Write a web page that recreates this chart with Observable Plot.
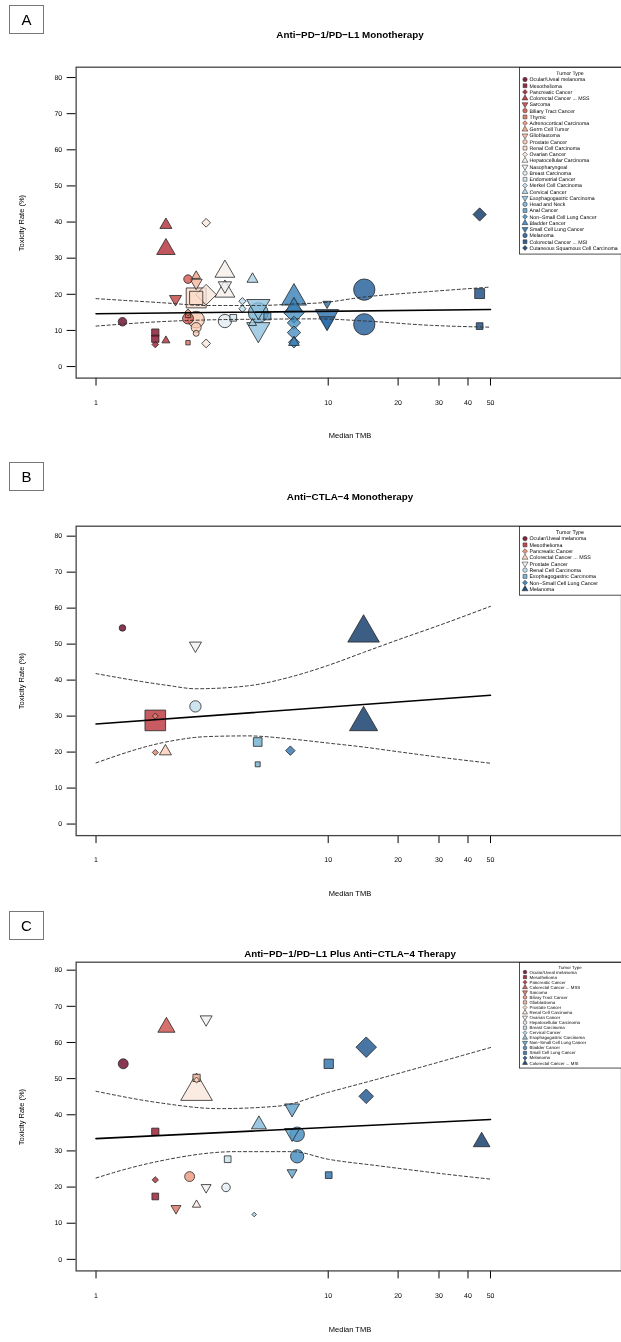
<!DOCTYPE html>
<html><head><meta charset="utf-8">
<script src="https://cdn.jsdelivr.net/npm/d3@7"></script>
<script src="https://cdn.jsdelivr.net/npm/@observablehq/plot@0.6"></script>
<style>
html,body{margin:0;padding:0;background:#fff;}
#page{position:relative;width:621px;height:1342px;overflow:hidden;background:#fff;font-family:"Liberation Sans",Arial,Helvetica,sans-serif;color:#000;will-change:transform;-webkit-font-smoothing:antialiased;}
#page svg text{text-rendering:geometricPrecision;}
.tag{position:absolute;left:9px;width:35px;height:29px;border:1px solid #777;box-sizing:border-box;font-size:15px;line-height:27px;text-align:center;}
.title{position:absolute;left:0;width:700px;text-align:center;font-weight:bold;font-size:9.8px;line-height:12px;}
.xlab{position:absolute;left:0;width:700px;text-align:center;font-size:7.5px;line-height:10px;}
.ylab{position:absolute;left:22px;width:0;height:0;}
.ylab span{position:absolute;left:-60px;top:-5px;width:120px;text-align:center;font-size:7.5px;line-height:10px;transform:rotate(-90deg);}
</style>
</head><body>
<div id="page"></div>
<script>
// ---------------- data ----------------
const xTicks = [1, 10, 20, 30, 40, 50];
const yTicks = [0, 10, 20, 30, 40, 50, 60, 70, 80];

// Panel A: Anti-PD-1/PD-L1 monotherapy
const typesA = ["Ocular/Uveal melanoma","Mesothelioma","Pancreatic Cancer","Colorectal Cancer ... MSS","Sarcoma","Biliary Tract Cancer","Thymic","Adrenocortical Carcinoma","Germ Cell Tumor","Glioblastoma","Prostate Cancer","Renal Cell Carcinoma","Ovarian Cancer","Hepatocellular Carcinoma","Nasopharyngeal","Breast Carcinoma","Endometrial Cancer","Merkel Cell Carcinoma","Cervical Cancer","Esophagogastric Carcinoma","Head and Neck","Anal Cancer","Non\u2212Small Cell Lung Cancer","Bladder Cancer","Small Cell Lung Cancer","Melanoma","Colorectal Cancer ... MSI","Cutaneous Squamous Cell Carcinoma"];
const tmbA = [1.30,1.80,1.80,2.0,2.2,2.49,2.49,2.49,2.70,2.70,2.70,2.70,2.98,3.59,3.59,3.59,3.90,4.27,4.72,5.0,5.0,5.47,7.12,7.12,9.89,14.3,44.9,44.9];
const ptTypeA = [0,1,1,2,3,3,3,4,5,5,6,6,7,8,9,10,10,10,11,11,12,12,12,13,13,14,15,16,17,17,18,18,19,19,20,21,22,22,22,22,23,23,23,24,24,24,25,25,26,26,27];
const ptRateA = [12.4,9.4,7.7,6.1,7.2,39.2,32.5,18.7,24.2,13.3,14.3,6.6,15.0,25.1,23.2,13.0,10.8,9.2,19.0,19.0,39.8,6.4,19.9,26.3,20.8,22.4,12.6,13.5,18.1,16.0,24.2,12.0,16.7,10.3,14.9,13.9,14.9,12.1,9.4,6.7,19.0,16.6,6.7,17.4,13.9,12.5,21.3,11.7,20.2,11.2,42.1];
const ptNA = [51,47,47,25,25,56,132,56,51,84,25,17,25,30,56,191,70,25,354,156,44,44,240,152,152,69,124,40,30,30,47,25,210,210,278,44,240,100,100,70,240,100,44,27,210,100,318,318,87,40,100];
const fitXA = [1, 50], fitYA = [14.6, 15.8];
const upXA = [1, 2, 3, 5, 7.5, 9.1, 14.5, 27.8, 50];
const upYA = [18.8, 17.6, 16.9, 16.9, 17.4, 17.6, 19.3, 20.8, 22.0];
const loXA = [1, 2, 3.5, 5, 9, 14.5, 27.8, 50];
const loYA = [11.2, 12.5, 13.0, 13.1, 13.2, 12.6, 11.4, 10.9];

// Panel B: Anti-CTLA-4 monotherapy
const typesB = ["Ocular/Uveal melanoma","Mesothelioma","Pancreatic Cancer","Colorectal Cancer ... MSS","Prostate Cancer","Renal Cell Carcinoma","Esophagogastric Carcinoma","Non\u2212Small Cell Lung Cancer","Melanoma"];
const tmbB = [1.30,1.80,1.80,1.99,2.68,2.68,4.97,6.87,14.2];
const ptTypeB = [0,1,2,2,3,4,5,6,6,7,8,8];
const ptRateB = [54.5,28.8,30.0,19.9,20.2,49.6,32.7,22.8,16.6,20.4,53.1,28.2];
const ptNB = [30,380,20,20,56,56,90,67,22,51,386,306];
const fitXB = [1, 50], fitYB = [27.8, 35.8];
const upXB = [1, 2, 2.7, 4.5, 7, 10, 14.2, 20, 30, 50];
const upYB = [41.8, 38.6, 37.6, 38.4, 41.0, 44.1, 47.7, 51.2, 55.2, 60.5];
const loXB = [1, 2, 3, 4.5, 7, 10, 14.2, 20, 30, 50];
const loYB = [17.0, 22.8, 24.3, 24.5, 23.6, 22.5, 21.4, 20.1, 18.6, 16.9];

// Panel C: Anti-PD-1/PD-L1 plus anti-CTLA-4
const typesC = ["Ocular/Uveal melanoma","Mesothelioma","Pancreatic Cancer","Colorectal Cancer ... MSS","Sarcoma","Biliary Tract Cancer","Glioblastoma","Prostate Cancer","Renal Cell Carcinoma","Ovarian Cancer","Hepatocellular Carcinoma","Breast Carcinoma","Cervical Cancer","Esophagogastric Carcinoma","Non\u2212Small Cell Lung Cancer","Bladder Cancer","Small Cell Lung Cancer","Melanoma","Colorectal Cancer ... MSI"];
const tmbC = [1.31,1.80,1.80,2.01,2.21,2.53,2.71,2.71,2.71,2.98,3.63,3.69,4.80,5.03,6.99,7.35,10.05,14.58,45.8];
const ptTypeC = [0,1,1,2,3,4,5,6,7,8,8,9,9,10,11,12,13,14,14,14,15,15,16,16,17,17,18];
const ptRateC = [54.1,35.3,17.4,22.0,64.2,14.1,22.9,50.2,49.6,46.5,15.1,66.4,19.9,19.9,27.7,12.4,37.3,41.8,35.0,24.0,34.6,28.5,54.1,23.3,58.7,45.1,32.5];
const ptNC = [69,47,40,23,114,38,69,47,20,386,27,56,38,51,40,12,87,87,87,38,148,124,78,40,240,121,107];
const fitXC = [1, 50], fitYC = [33.4, 38.7];
const upXC = [1, 1.88, 3.39, 6.1, 10, 16.4, 50];
const upYC = [46.5, 43.3, 41.7, 42.4, 46.2, 49.9, 58.6];
const loXC = [1, 1.35, 1.88, 4, 7, 10, 16.4, 31.8, 50];
const loYC = [22.5, 25.0, 27.2, 29.8, 29.8, 27.7, 25.9, 23.6, 22.2];

// ---------------- drawing ----------------
const SQ3 = Math.sqrt(3);
const triangleDown = {
  draw(context, size) {
    const y = -Math.sqrt(size / (SQ3 * 3));
    context.moveTo(0, -y * 2);
    context.lineTo(-SQ3 * y, y);
    context.lineTo(SQ3 * y, y);
    context.closePath();
  }
};
const shapes = [d3.symbolCircle, d3.symbolSquare, d3.symbolDiamond2, d3.symbolTriangle, triangleDown];
const FONT = '"Liberation Sans", Arial, Helvetica, sans-serif';
const page = document.getElementById("page");

function addDiv(cls, html, css) {
  const d = document.createElement("div");
  d.className = cls;
  d.innerHTML = html;
  Object.assign(d.style, css);
  page.appendChild(d);
  return d;
}

function panel(cfg, types, tmb, ptType, ptRate, ptN, fitX, fitY, upX, upY, loX, loY) {
  const colors = d3.quantize(d3.interpolateRdBu, types.length);
  const pts = ptType.map((t, i) => ({type: types[t], k: t, tmb: tmb[t], rate: ptRate[i], n: ptN[i]}));
  const fit = fitX.map((x, i) => ({x, y: fitY[i]}));
  const up = upX.map((x, i) => ({x, y: upY[i]}));
  const lo = loX.map((x, i) => ({x, y: loY[i]}));
  const mt = 60, mb = 80;
  const frameH = cfg.frameBottom - cfg.frameTop;
  const unit = (cfg.y0 - cfg.y80) / 80;
  const yTop = 80 + (cfg.y80 - cfg.frameTop) / unit;
  const yBot = -(cfg.frameBottom - cfg.y0) / unit;
  const chart = Plot.plot({
    width: 624,
    height: mt + frameH + mb,
    marginTop: mt, marginBottom: mb, marginLeft: 76, marginRight: 0,
    style: {fontFamily: FONT, fontSize: "7px", background: "transparent", color: "#000", overflow: "visible"},
    x: {type: "log", domain: [0.821, 183.3], ticks: xTicks, tickFormat: d => String(d), tickSize: 8, tickPadding: 14, label: null},
    y: {domain: [yBot, yTop], ticks: yTicks, tickSize: 9, tickPadding: 5, label: null},
    r: {type: "sqrt", domain: [0, 400], range: [0, 12]},
    color: {type: "ordinal", domain: types, range: colors},
    marks: [
      Plot.dot(pts, {x: "tmb", y: "rate", r: "n", fill: "type", symbol: d => shapes[d.k % 5],
        stroke: "#262626", strokeWidth: 0.8, fillOpacity: 0.78}),
      Plot.line(fit, {x: "x", y: "y", stroke: "#000", strokeWidth: 1.6}),
      Plot.line(up, {x: "x", y: "y", stroke: "#333", strokeWidth: 1, strokeDasharray: "3,2.6", curve: "monotone-x"}),
      Plot.line(lo, {x: "x", y: "y", stroke: "#333", strokeWidth: 1, strokeDasharray: "3,2.6", curve: "monotone-x"}),
      Plot.frame({stroke: "#444", strokeWidth: 1.3})
    ]
  });
  chart.style.position = "absolute";
  chart.style.left = "0px";
  chart.style.top = (cfg.frameTop - mt) + "px";
  page.appendChild(chart);

  // panel tag, title, axis titles
  addDiv("tag", cfg.tag, {top: cfg.tagTop + "px"});
  addDiv("title", cfg.title, {top: (cfg.titleY - 6) + "px"});
  addDiv("xlab", "Median TMB", {top: (cfg.frameBottom + 57.5 - 5) + "px"});
  addDiv("ylab", "<span>Toxicity Rate (%)</span>", {top: ((cfg.frameTop + cfg.frameBottom) / 2) + "px"});

  // legend (top-right inside frame)
  const step = cfg.legStep, fs = cfg.legFont;
  const h = step * (types.length + 1.9);
  const svg = d3.create("svg").attr("width", 110).attr("height", h + 2)
    .style("position", "absolute").style("left", "519px").style("top", cfg.frameTop + "px")
    .style("font-family", FONT);
  svg.append("rect").attr("x", 0.5).attr("y", 0.5).attr("width", 120).attr("height", h)
    .attr("fill", "#fff").attr("stroke", "#222").attr("stroke-width", 0.8);
  svg.append("text").attr("x", 51).attr("y", step * 1.0).attr("dy", "0.35em")
    .attr("text-anchor", "middle").attr("font-size", fs).text("Tumor Type");
  types.forEach((t, i) => {
    const y = step * (2 + i);
    svg.append("path").attr("d", d3.symbol(shapes[i % 5], fs * fs * 0.55)())
      .attr("transform", `translate(6,${y})`).attr("fill", colors[i]).attr("fill-opacity", 0.85)
      .attr("stroke", "#222").attr("stroke-width", 0.5);
    svg.append("text").attr("x", 10.5).attr("y", y).attr("dy", "0.35em")
      .attr("font-size", fs).text(t);
  });
  page.appendChild(svg.node());
}

panel({tag: "A", title: "Anti\u2212PD\u22121/PD\u2212L1 Monotherapy", tagTop: 5, titleY: 35,
       frameTop: 66.5, frameBottom: 378.9, y80: 76.9, y0: 367.3, legStep: 6.24, legFont: 5.2},
      typesA, tmbA, ptTypeA, ptRateA, ptNA, fitXA, fitYA, upXA, upYA, loXA, loYA);
panel({tag: "B", title: "Anti\u2212CTLA\u22124 Monotherapy", tagTop: 462, titleY: 497,
       frameTop: 526, frameBottom: 836.9, y80: 536, y0: 825.3, legStep: 6.3, legFont: 5.3},
      typesB, tmbB, ptTypeB, ptRateB, ptNB, fitXB, fitYB, upXB, upYB, loXB, loYB);
panel({tag: "C", title: "Anti\u2212PD\u22121/PD\u2212L1 Plus Anti\u2212CTLA\u22124 Therapy", tagTop: 911, titleY: 954,
       frameTop: 962, frameBottom: 1272.2, y80: 970, y0: 1260.6, legStep: 5.05, legFont: 4.4},
      typesC, tmbC, ptTypeC, ptRateC, ptNC, fitXC, fitYC, upXC, upYC, loXC, loYC);
</script>
</body></html>
